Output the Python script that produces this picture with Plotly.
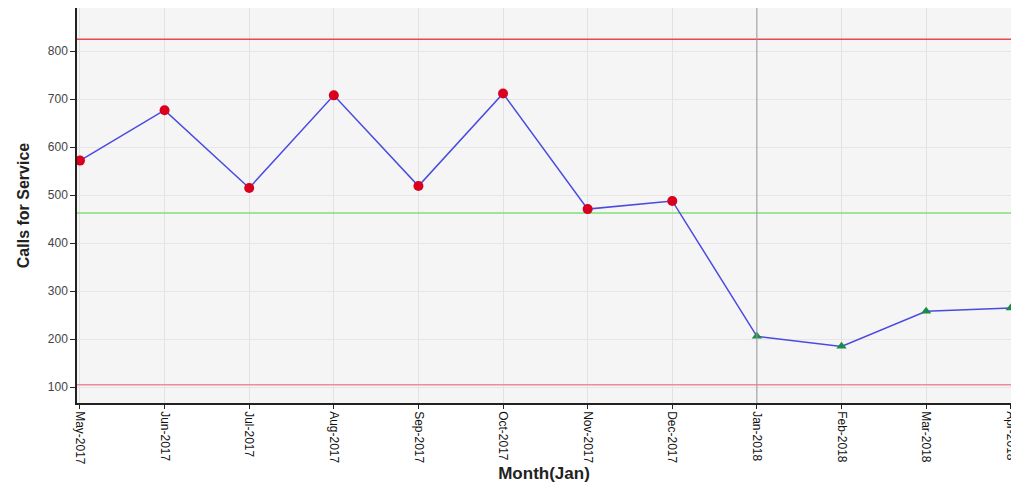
import plotly.graph_objects as go

# Monthly calls for service, May 2017 - Apr 2018
months = ["May-2017", "Jun-2017", "Jul-2017", "Aug-2017", "Sep-2017", "Oct-2017",
          "Nov-2017", "Dec-2017", "Jan-2018", "Feb-2018", "Mar-2018", "Apr-2018"]
calls = [572, 677, 515, 708, 519, 712, 471, 488, 206, 185, 258, 265]

# Control limits
upper_limit = 825
center_line = 463
lower_limit = 105

y_ticks = [100, 200, 300, 400, 500, 600, 700, 800]

x_idx = list(range(len(months)))
above = [i for i, v in enumerate(calls) if v >= center_line]
below = [i for i, v in enumerate(calls) if v < center_line]

fig = go.Figure()

# control limit lines
for val, col in [(upper_limit, "#e8484f"), (lower_limit, "#f08a9a"), (center_line, "#7fe07a")]:
    fig.add_trace(go.Scatter(x=[-0.5, len(months) - 0.5], y=[val, val], mode="lines",
                             line=dict(color=col, width=1.5), hoverinfo="skip",
                             showlegend=False))

# reference line at start of 2018
fig.add_vline(x=months.index("Jan-2018"), line=dict(color="#9a9a9a", width=1))

fig.add_trace(go.Scatter(x=x_idx, y=calls, mode="lines",
                         line=dict(color="#4a4ae0", width=1.5), showlegend=False))
fig.add_trace(go.Scatter(x=above, y=[calls[i] for i in above], mode="markers",
                         marker=dict(color="#d8001e", size=10, symbol="circle"),
                         showlegend=False, cliponaxis=False))
fig.add_trace(go.Scatter(x=below, y=[calls[i] for i in below], mode="markers",
                         marker=dict(color="#1a8a4a", size=9, symbol="triangle-up"),
                         showlegend=False, cliponaxis=False))

fig.update_layout(
    width=1011, height=486,
    margin=dict(l=77, r=0, t=8, b=83),
    paper_bgcolor="white",
    plot_bgcolor="#f5f5f5",
    font=dict(family="Liberation Sans, Arial, sans-serif", color="#333"),
)
fig.update_xaxes(
    range=[-0.035, 11.003],
    automargin=False,
    tickvals=x_idx, ticktext=months, tickangle=90,
    tickfont=dict(size=12, color="#111"),
    ticklabeloverflow="allow",
    showline=True, linecolor="#222", linewidth=1.5,
    ticks="outside", ticklen=4, tickcolor="#222",
    showgrid=True, gridcolor="#e2e2e2", gridwidth=1,
    zeroline=False,
    title=dict(text="<b>Month(Jan)</b>", font=dict(size=17, color="#222"), standoff=2),
)
fig.update_yaxes(
    range=[67, 890],
    tickvals=y_ticks,
    tickfont=dict(size=12, color="#444"),
    showline=True, linecolor="#222", linewidth=1.5,
    ticks="outside", ticklen=5, tickcolor="#222",
    showgrid=True, gridcolor="#e6e6e6", gridwidth=1,
    zeroline=False,
    title=dict(text="<b>Calls for Service</b>", font=dict(size=16, color="#222"), standoff=14),
)

fig.write_html("out.html")
